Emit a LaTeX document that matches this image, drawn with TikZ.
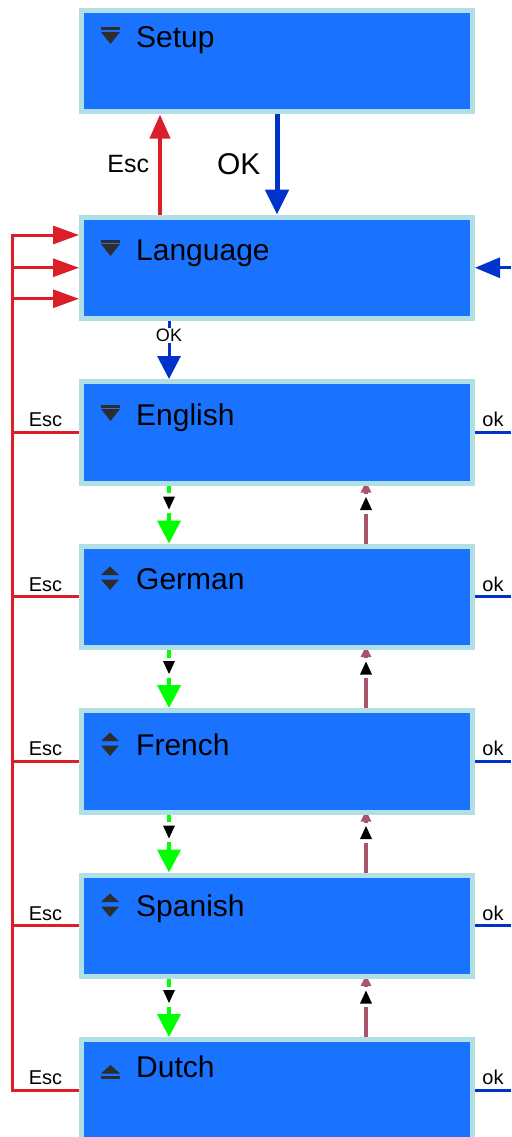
\documentclass[tikz,border=0pt]{standalone}
\usepackage{fontspec}
\setmainfont{Liberation Sans}
\usetikzlibrary{positioning,arrows.meta,decorations.markings,backgrounds}

\definecolor{menublue}{RGB}{25,115,255}
\definecolor{menurim}{RGB}{176,224,230}
\definecolor{escred}{RGB}{220,30,40}
\definecolor{okblue}{RGB}{0,51,204}
\definecolor{backmauve}{RGB}{170,85,105}
\definecolor{icongray}{RGB}{45,45,45}

\tikzset{
  menubox/.style={draw=menurim, fill=menublue, line width=5pt, outer sep=2.5pt, inner sep=0pt,
    minimum width=391pt, minimum height=101.5pt},
  menutext/.style={anchor=base west, inner sep=0pt, font=\fontsize{30}{36}\selectfont},
  tag/.style={inner sep=0pt, font=\fontsize{20}{24}\selectfont},
  escline/.style={draw=escred, line width=3pt},
  okline/.style={draw=okblue, line width=3pt},
  escarrow/.style={-{Triangle[length=26pt,width=18pt]}},
  midtip/.style={postaction={decorate}, decoration={markings, mark=at position #1 with {
    \fill[white, -, shorten >=0pt] (-10,-3) rectangle (10,3);
    \fill[black, -, shorten >=0pt] (-6.5,-6) -- (6.5,0) -- (-6.5,6) -- cycle;}}},
  nextline/.style={draw=green, line width=4pt, -{Triangle[length=23pt,width=23pt]}, midtip=17.5pt},
  prevline/.style={draw=backmauve, line width=4pt, shorten >=-4pt, -{Triangle[length=11pt,width=10pt]}, midtip=40pt},
  pics/icondown/.style={code={
    \fill[icongray] (-35,-20.5) rectangle (-16,-17.5);
    \fill[icongray] (-35,-16) -- (-16,-16) -- (-25.5,-4) -- cycle;}},
  pics/iconupdown/.style={code={
    \fill[icongray] (-35,-14) -- (-17,-14) -- (-26,-22.5) -- cycle;
    \fill[icongray] (-35,-9.5) -- (-17,-9.5) -- (-26,1) -- cycle;}},
  pics/iconup/.style={code={
    \fill[icongray] (-35,-3.5) -- (-16,-3.5) -- (-25.5,-12) -- cycle;
    \fill[icongray] (-35,-1.5) rectangle (-16,1.5);}}
}

\begin{document}
\begin{tikzpicture}[x=1pt, y=-1pt]
\useasboundingbox (0,0) rectangle (511,1137);
\clip (0,0) rectangle (511,1137);
% menu boxes
\node[menubox, anchor=north west] (setup) at (79,8) {};
\node[menubox, below=100pt of setup] (language) {};
\node[menubox, below=58pt of language] (english) {};
\node[menubox, below=58pt of english] (german) {};
\node[menubox, below=58pt of german] (french) {};
\node[menubox, below=58pt of french] (spanish) {};
\node[menubox, below=58pt of spanish] (dutch) {};
% entries
\foreach \boxname/\boxtext/\boxdy in {setup/Setup/40, language/Language/45.5, english/English/46,
    german/German/45.5, french/French/47, spanish/Spanish/43.5, dutch/Dutch/40}
  \node[menutext] (\boxname-txt) at ([shift={(57,\boxdy)}]\boxname.north west) {\boxtext};
\foreach \boxname in {setup,language,english}
  \pic at (\boxname-txt.base west) {icondown};
\foreach \boxname in {german,french,spanish}
  \pic at (\boxname-txt.base west) {iconupdown};
\pic at (dutch-txt.base west) {iconup};

\coordinate (bus) at (12,235);
\coordinate (okbus) at (511,0);
\coordinate (esccol) at (160,0);
\coordinate (dncol) at (169,0);
\coordinate (upcol) at (366,0);
\coordinate (langlow) at ([yshift=-31pt]language.west);

\begin{scope}[on background layer]
% setup <-> language
\draw[escline, line width=4pt, -{Triangle[length=24pt,width=20pt]}] (language.north -| esccol) -- (setup.south -| esccol)
  node[midway, left=9pt, inner sep=0pt, font=\fontsize{25}{30}\selectfont]{Esc};
\draw[okline, line width=5pt, -{Triangle[length=25pt,width=23pt]}] (setup.south) -- (language.north)
  node[midway, left=14pt, inner sep=0pt, font=\fontsize{30}{36}\selectfont]{OK};
% escape bus
\draw[escline, escarrow] (dutch.west) -- (dutch.west -| bus) node[midway, above=4pt, tag]{Esc} -- (bus) -- (bus -| language.west);
\draw[escline, escarrow] (language.west -| bus) -- (language.west);
\draw[escline, escarrow] (langlow -| bus) -- (langlow);
\foreach \lang in {english,german,french,spanish}
  \draw[escline] (\lang.west) -- (\lang.west -| bus) node[midway, above=4pt, tag]{Esc};
% ok side
\foreach \lang in {english,german,french,spanish,dutch}
  \draw[okline] (\lang.east) -- (\lang.east -| okbus) node[midway, above=4pt, tag]{ok};
\draw[okline, -{Triangle[length=25pt,width=20pt]}] (language.east -| okbus) -- (language.east);
\draw[okline, -{Triangle[length=23pt,width=23pt]}] (language.south -| dncol) -- (english.north -| dncol)
  node[pos=0.25, fill=white, inner sep=1pt, font=\fontsize{18}{22}\selectfont]{OK};
% scrolling
\foreach \menuA/\menuB in {english/german, german/french, french/spanish, spanish/dutch}{
  \draw[nextline] (\menuA.south -| dncol) -- (\menuB.north -| dncol);
  \draw[prevline] (\menuB.north -| upcol) -- (\menuA.south -| upcol);
}
\end{scope}
\end{tikzpicture}
\end{document}
